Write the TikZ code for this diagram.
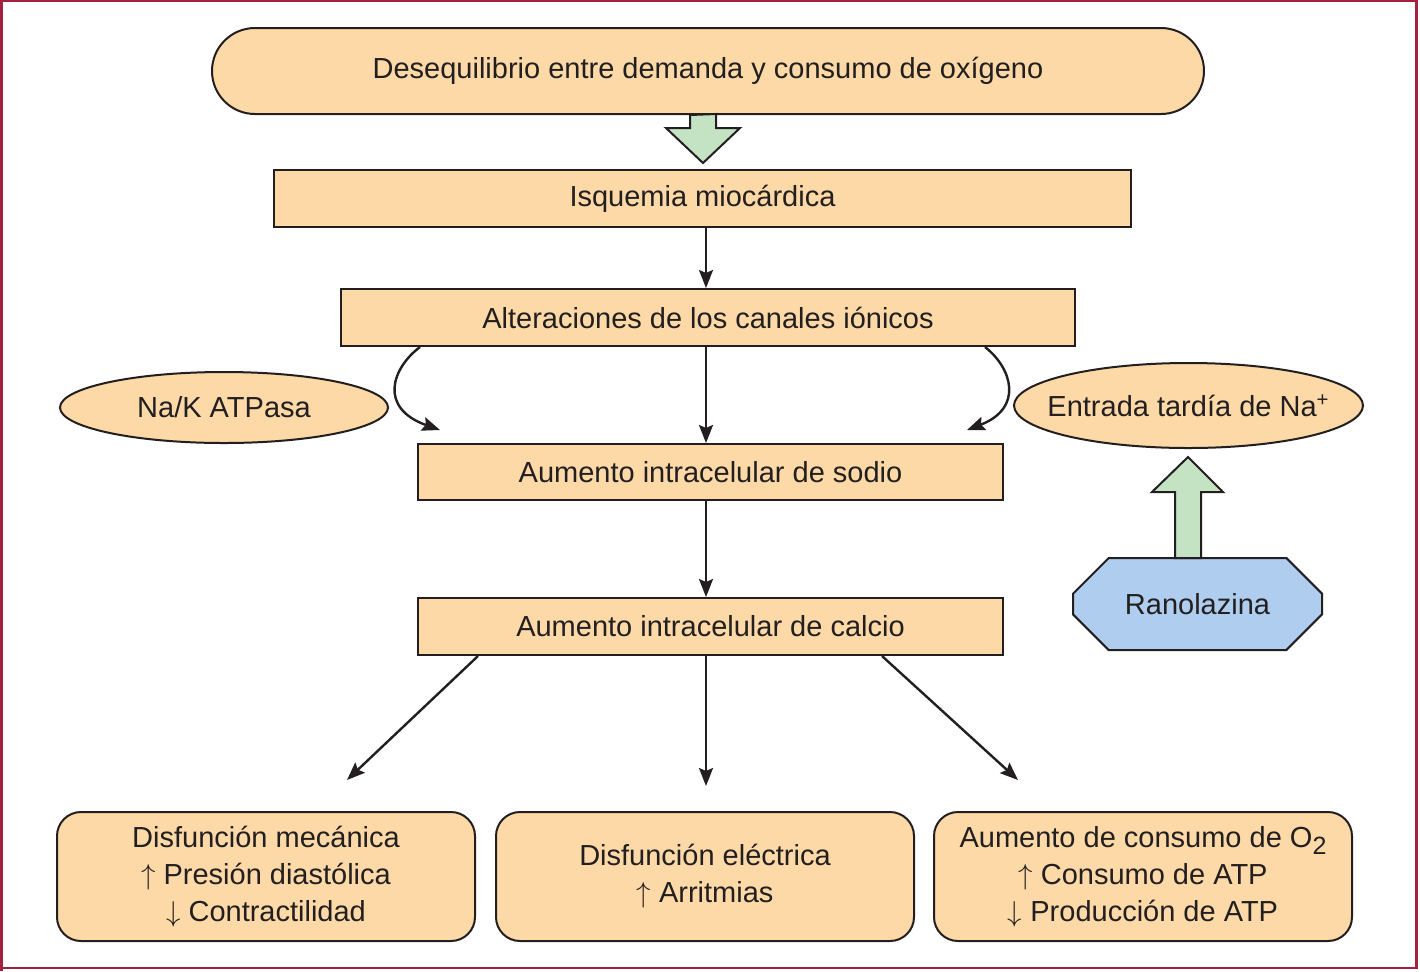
\documentclass[tikz,border=0pt]{standalone}
\usepackage{fontspec}
\setmainfont{Liberation Sans}
\usetikzlibrary{arrows.meta,calc,shapes.misc,shapes.geometric}
\definecolor{peach}{HTML}{FCD9A6}
\definecolor{lgreen}{HTML}{C3E3C3}
\definecolor{lblue}{HTML}{AFCDEE}
\definecolor{frame}{HTML}{A3213D}
\definecolor{ink}{HTML}{231F20}
\newcommand{\upar}{$\uparrow$}
\newcommand{\dnar}{$\downarrow$}
\begin{document}
\begin{tikzpicture}[x=0.5pt,y=-0.5pt,
  every node/.style={text=ink,font=\fontsize{14.5}{18.5}\selectfont,inner sep=0pt},
  boxbase/.style={draw=ink,line width=1pt,fill=peach},
  rectbox/.style={boxbase,rectangle},
  roundbox/.style={boxbase,rectangle,rounded corners=12pt,align=center,minimum width=209pt,minimum height=64.5pt},
  ellbox/.style={boxbase,ellipse,inner xsep=-14pt,inner ysep=-4pt},
  arr/.style={draw=ink,line width=1.2pt,-{Stealth[length=9pt,width=7pt,inset=1.5pt]}},
  blockarrow/.style={draw=ink,line width=1pt,fill=lgreen,line join=miter}]
\useasboundingbox (0,0) rectangle (1420,971);
\draw[frame,line width=1.1pt] (1.5,1) rectangle (1416.5,968);
\draw[frame,line width=1.6pt] (1.6,0) -- (1.6,971);

\node[boxbase,rounded rectangle,minimum width=496pt,minimum height=43pt] (top) at (708,71) {Desequilibrio entre demanda y consumo de oxígeno};
\node[rectbox,minimum width=428.5pt,minimum height=28.5pt] (isq) at (702.5,198.5) {Isquemia miocárdica};
\node[rectbox,minimum width=367pt,minimum height=28.5pt] (alt) at (708,317.5) {Alteraciones de los canales iónicos};
\node[ellbox,minimum width=164pt,minimum height=35.5pt] (nak) at (224,407.5) {Na/K ATPasa};
\node[ellbox,minimum width=174.5pt,minimum height=42.5pt] (ent) at (1188.5,405.5) {Entrada tardía de Na\textsuperscript{+}};
\node[rectbox,minimum width=292.5pt,minimum height=28pt] (sod) at (710.5,472) {Aumento intracelular de sodio};
\node[rectbox,minimum width=292.5pt,minimum height=28.5pt] (cal) at (710.5,626.5) {Aumento intracelular de calcio};
\node[draw=ink,line width=1pt,fill=lblue,chamfered rectangle,chamfered rectangle xsep=13pt,chamfered rectangle ysep=12.5pt,minimum width=124.5pt,minimum height=46pt] (ran) at (1197.5,604) {Ranolazina};
\node[roundbox] (b1) at (266,876.5) {Disfunción mecánica\\\upar\ Presión diastólica\\\dnar\ Contractilidad};
\node[roundbox] (b2) at (705,876.5) {Disfunción eléctrica\\\upar\ Arritmias};
\node[roundbox] (b3) at (1143,876.5) {Aumento de consumo de O\raisebox{-0.5ex}{\fontsize{12.5}{12.5}\selectfont 2}\\\upar\ Consumo de ATP\\\dnar\ Producción de ATP};

% block arrows
\draw[blockarrow] (top.south -| 690,0) -- (690,128) -- (666,128) -- (703,163) -- (740,128) -- (716,128) -- (716,114) -- cycle;
\draw[blockarrow] (1175,558) -- (1175,492) -- (1152,492) -- (1188,457) -- (1223,492) -- (1201,492) -- (1201,558) -- cycle;

\coordinate (cx) at (706,0);
\coordinate (lt) at (440,430);
\coordinate (rt) at (967,430);
\coordinate (e1) at (347,780);
\coordinate (e2) at (706,786);
\coordinate (e3) at (1018,780);

\draw[arr] (isq.south -| cx) -- (alt.north -| cx);
\draw[arr] (alt.south -| cx) -- (sod.north -| cx);
\draw[arr] (sod.south -| cx) -- (cal.north -| cx);
\draw[arr] ($(alt.south)+(-288,0)$) .. controls (392,368) and (378,408) .. (lt);
\draw[arr] ($(alt.south)+(277,0)$) .. controls (1012,368) and (1024,408) .. (rt);
\draw[arr] ($(cal.south)+(-232.5,0)$) -- (e1);
\draw[arr] (cal.south -| cx) -- (e2);
\draw[arr] ($(cal.south)+(171.5,0)$) -- (e3);
\end{tikzpicture}
\end{document}
